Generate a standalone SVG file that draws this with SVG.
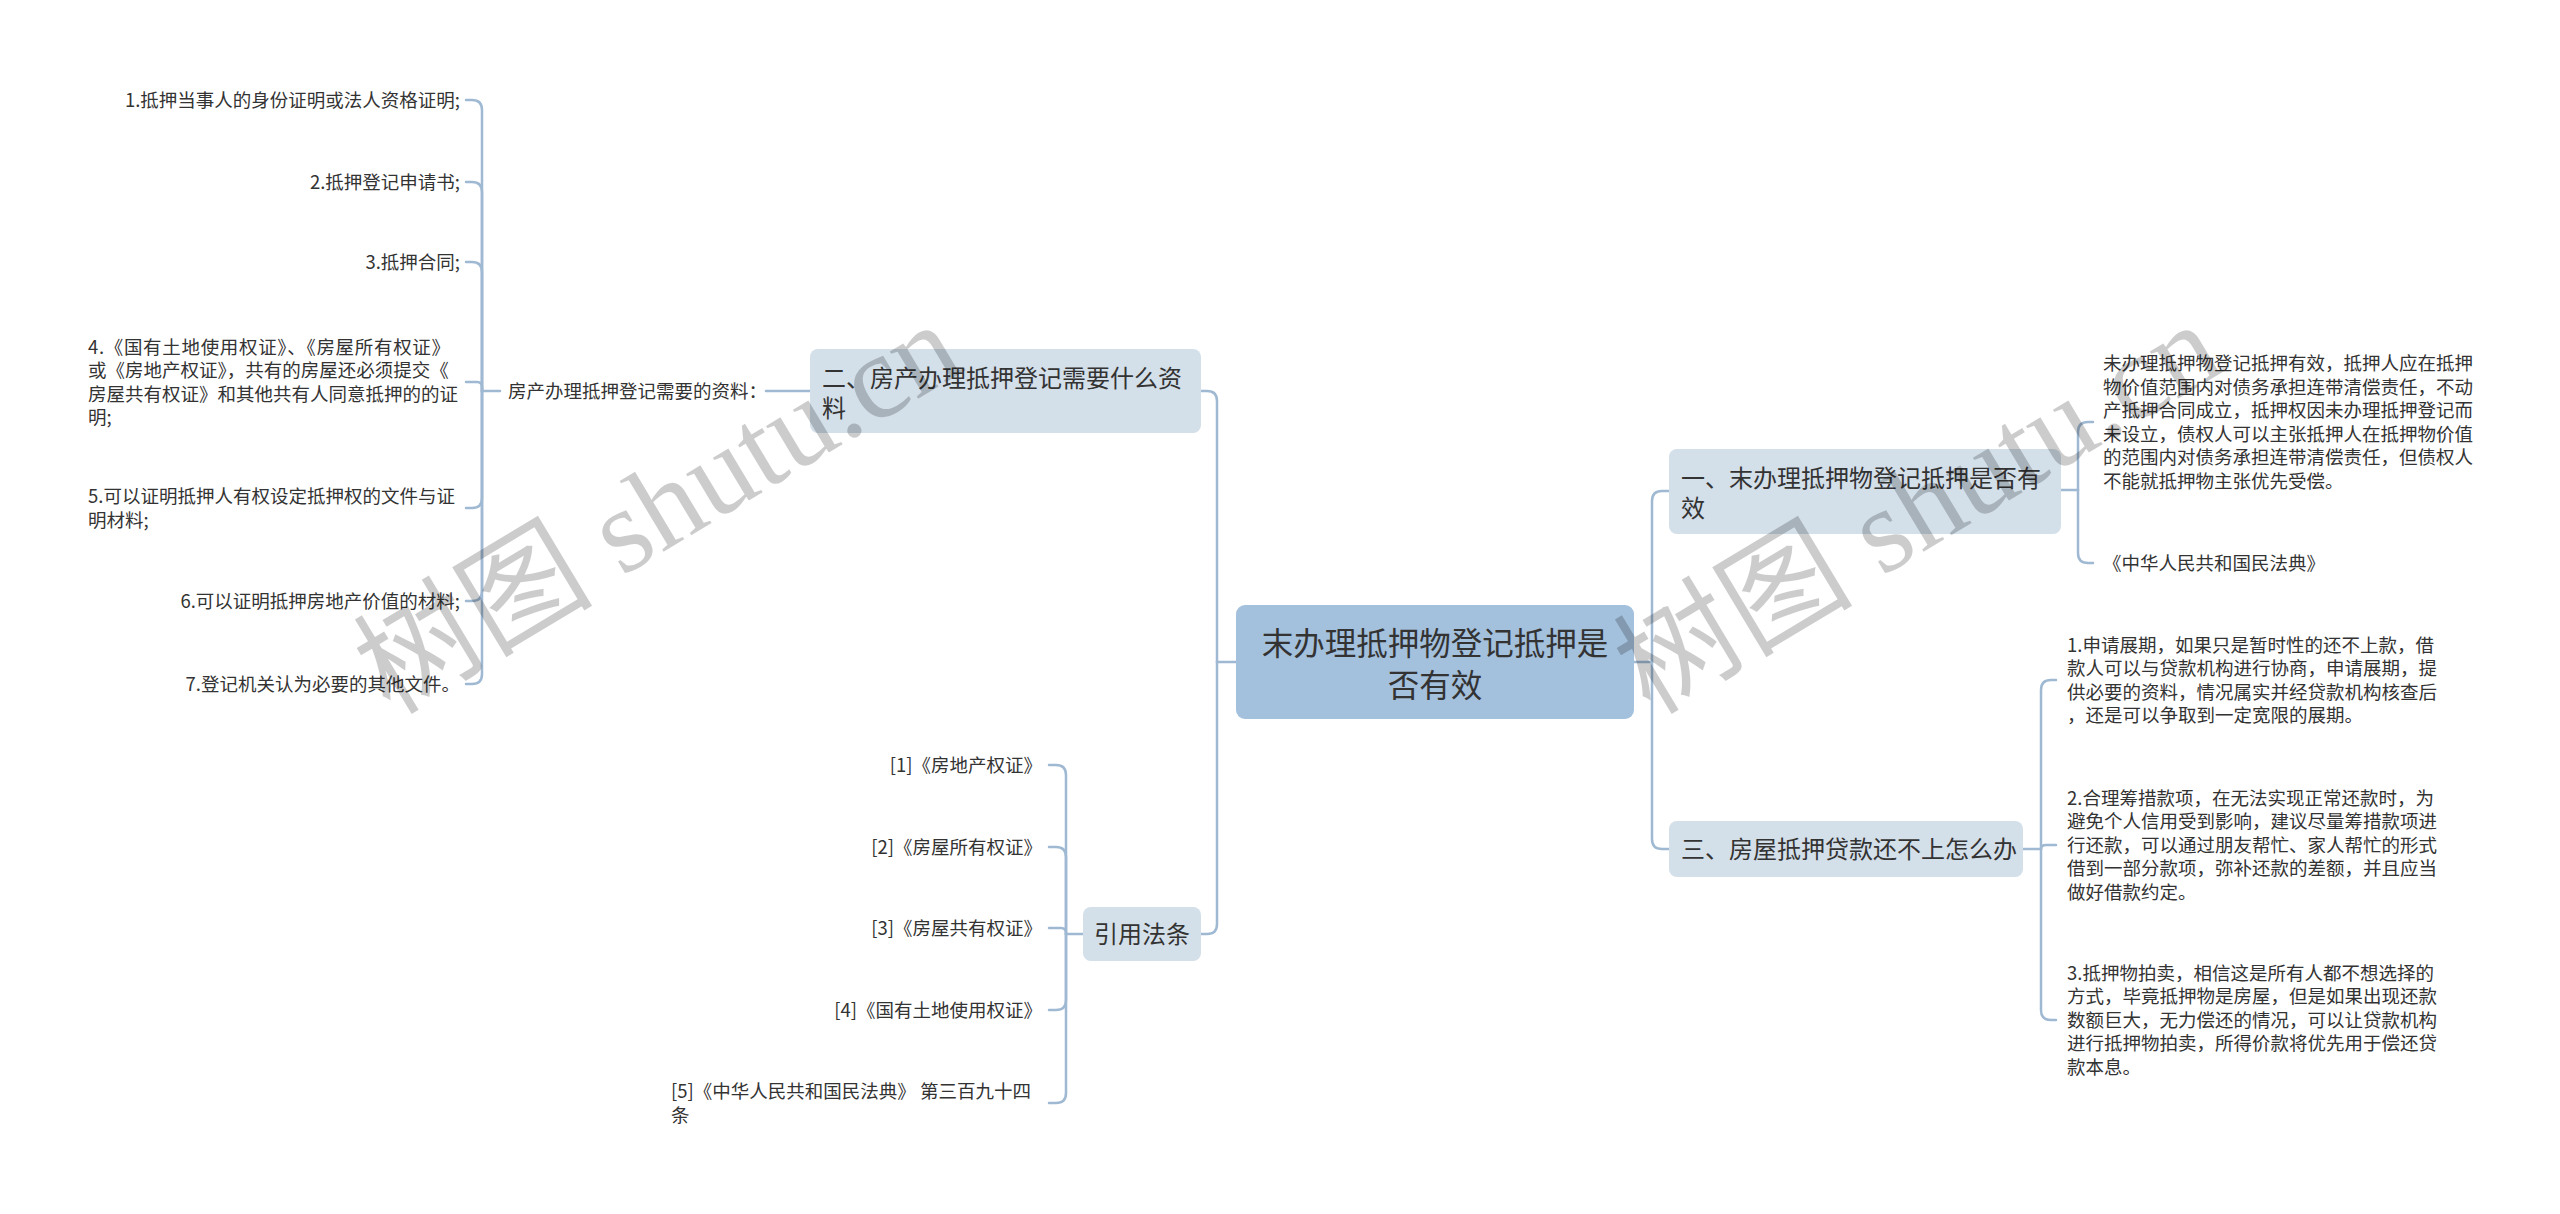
<svg xmlns="http://www.w3.org/2000/svg" width="2560" height="1214" viewBox="0 0 2560 1214">
<style>
.t{font-family:"Noto Sans CJK SC","Liberation Sans",sans-serif;fill:#333333}
.leaf{font-size:18.5px}
.br{font-size:24px}
.rt{font-size:31.5px}
.c{fill:none;stroke:#9fb9d3;stroke-width:2.5;stroke-linecap:round}
.bx{fill:#d3dfe9}
.rb{fill:#a3c0dc}
.wm{font-family:"Liberation Serif","Noto Sans CJK SC",serif;font-size:120px;fill:#000000;fill-opacity:0.2}
</style>
<rect width="2560" height="1214" fill="#ffffff"/>
<g id="connectors">
<path class="c" d="M466,100 H472 Q482,100 482,110 V391"/>
<path class="c" d="M466,182 H472 Q482,182 482,192 V391"/>
<path class="c" d="M466,262 H472 Q482,262 482,272 V391"/>
<path class="c" d="M466,382 H477 Q482,382 482,387 V391"/>
<path class="c" d="M466,508 H472 Q482,508 482,498 V391"/>
<path class="c" d="M466,601 H472 Q482,601 482,591 V391"/>
<path class="c" d="M466,684 H472 Q482,684 482,674 V391"/>
<path class="c" d="M482,391 H500"/>
<path class="c" d="M766,391 H810"/>
<path class="c" d="M1201,391 H1207 Q1217,391 1217,401 V662"/>
<path class="c" d="M1201,934 H1207 Q1217,934 1217,924 V662"/>
<path class="c" d="M1217,662 H1236"/>
<path class="c" d="M1634,662 H1652"/>
<path class="c" d="M1669,491 H1662 Q1652,491 1652,501 V662"/>
<path class="c" d="M1669,849 H1662 Q1652,849 1652,839 V662"/>
<path class="c" d="M2060,490 H2078"/>
<path class="c" d="M2093,422 H2088 Q2078,422 2078,432 V490"/>
<path class="c" d="M2093,563 H2088 Q2078,563 2078,553 V490"/>
<path class="c" d="M2023,849 H2041"/>
<path class="c" d="M2056,680 H2051 Q2041,680 2041,690 V849"/>
<path class="c" d="M2056,845 H2046 Q2041,845 2041,849"/>
<path class="c" d="M2056,1020 H2051 Q2041,1020 2041,1010 V849"/>
<path class="c" d="M1083,934 H1066"/>
<path class="c" d="M1049,765 H1056 Q1066,765 1066,775 V934"/>
<path class="c" d="M1049,847 H1056 Q1066,847 1066,857 V934"/>
<path class="c" d="M1049,928 H1061 Q1066,928 1066,933 V934"/>
<path class="c" d="M1049,1010 H1056 Q1066,1010 1066,1000 V934"/>
<path class="c" d="M1049,1103 H1056 Q1066,1103 1066,1093 V934"/>
</g>
<g id="root">
<rect class="rb" x="1236" y="605" width="398" height="114" rx="9"/>
<text class="t rt" x="1435" y="655" text-anchor="middle">末办理抵押物登记抵押是</text>
<text class="t rt" x="1435" y="697" text-anchor="middle">否有效</text>
</g>
<g id="node-er">
<rect class="bx" x="810" y="349" width="391" height="84" rx="8"/>
<text class="t br" x="822" y="387">二、房产办理抵押登记需要什么资</text>
<text class="t br" x="822" y="417">料</text>
</g>
<g id="node-yi">
<rect class="bx" x="1669" y="449" width="392" height="85" rx="8"/>
<text class="t br" x="1681" y="487">一、末办理抵押物登记抵押是否有</text>
<text class="t br" x="1681" y="517">效</text>
</g>
<g id="node-san">
<rect class="bx" x="1669" y="821" width="354" height="56" rx="8"/>
<text class="t br" x="1681" y="858">三、房屋抵押贷款还不上怎么办</text>
</g>
<g id="node-yinyong">
<rect class="bx" x="1083" y="907" width="118" height="54" rx="8"/>
<text class="t br" x="1142" y="943" text-anchor="middle">引用法条</text>
</g>
<g id="leaf-ziliao">
<text class="t leaf" x="508" y="398">房产办理抵押登记需要的资料：</text>
</g>
<g id="leaf-1"><text class="t leaf" x="460" y="107" text-anchor="end">1.抵押当事人的身份证明或法人资格证明;</text></g>
<g id="leaf-2"><text class="t leaf" x="460" y="189" text-anchor="end">2.抵押登记申请书;</text></g>
<g id="leaf-3"><text class="t leaf" x="460" y="269" text-anchor="end">3.抵押合同;</text></g>
<g id="leaf-4">
<text class="t leaf" x="88" y="354" textLength="362" lengthAdjust="spacing">4.《国有土地使用权证》、《房屋所有权证》</text>
<text class="t leaf" x="88" y="377">或《房地产权证》，共有的房屋还必须提交《</text>
<text class="t leaf" x="88" y="401">房屋共有权证》和其他共有人同意抵押的的证</text>
<text class="t leaf" x="88" y="424">明;</text>
</g>
<g id="leaf-5">
<text class="t leaf" x="88" y="503">5.可以证明抵押人有权设定抵押权的文件与证</text>
<text class="t leaf" x="88" y="527">明材料;</text>
</g>
<g id="leaf-6"><text class="t leaf" x="460" y="608" text-anchor="end">6.可以证明抵押房地产价值的材料;</text></g>
<g id="leaf-7"><text class="t leaf" x="460" y="691" text-anchor="end">7.登记机关认为必要的其他文件。</text></g>
<g id="leaf-yi-1">
<text class="t leaf" x="2103" y="370">未办理抵押物登记抵押有效，抵押人应在抵押</text>
<text class="t leaf" x="2103" y="394">物价值范围内对债务承担连带清偿责任，不动</text>
<text class="t leaf" x="2103" y="417">产抵押合同成立，抵押权因未办理抵押登记而</text>
<text class="t leaf" x="2103" y="441">未设立，债权人可以主张抵押人在抵押物价值</text>
<text class="t leaf" x="2103" y="464">的范围内对债务承担连带清偿责任，但债权人</text>
<text class="t leaf" x="2103" y="488">不能就抵押物主张优先受偿。</text>
</g>
<g id="leaf-yi-2"><text class="t leaf" x="2103" y="570">《中华人民共和国民法典》</text></g>
<g id="leaf-san-1">
<text class="t leaf" x="2067" y="652">1.申请展期，如果只是暂时性的还不上款，借</text>
<text class="t leaf" x="2067" y="675">款人可以与贷款机构进行协商，申请展期，提</text>
<text class="t leaf" x="2067" y="699">供必要的资料，情况属实并经贷款机构核查后</text>
<text class="t leaf" x="2067" y="722">，还是可以争取到一定宽限的展期。</text>
</g>
<g id="leaf-san-2">
<text class="t leaf" x="2067" y="805">2.合理筹措款项，在无法实现正常还款时，为</text>
<text class="t leaf" x="2067" y="828">避免个人信用受到影响，建议尽量筹措款项进</text>
<text class="t leaf" x="2067" y="852">行还款，可以通过朋友帮忙、家人帮忙的形式</text>
<text class="t leaf" x="2067" y="875">借到一部分款项，弥补还款的差额，并且应当</text>
<text class="t leaf" x="2067" y="899">做好借款约定。</text>
</g>
<g id="leaf-san-3">
<text class="t leaf" x="2067" y="980">3.抵押物拍卖，相信这是所有人都不想选择的</text>
<text class="t leaf" x="2067" y="1003">方式，毕竟抵押物是房屋，但是如果出现还款</text>
<text class="t leaf" x="2067" y="1027">数额巨大，无力偿还的情况，可以让贷款机构</text>
<text class="t leaf" x="2067" y="1050">进行抵押物拍卖，所得价款将优先用于偿还贷</text>
<text class="t leaf" x="2067" y="1074">款本息。</text>
</g>
<g id="ref-1"><text class="t leaf" x="1042" y="772" text-anchor="end">[1]《房地产权证》</text></g>
<g id="ref-2"><text class="t leaf" x="1042" y="854" text-anchor="end">[2]《房屋所有权证》</text></g>
<g id="ref-3"><text class="t leaf" x="1042" y="935" text-anchor="end">[3]《房屋共有权证》</text></g>
<g id="ref-4"><text class="t leaf" x="1042" y="1017" text-anchor="end">[4]《国有土地使用权证》</text></g>
<g id="ref-5">
<text class="t leaf" x="671" y="1098">[5]《中华人民共和国民法典》 第三百九十四</text>
<text class="t leaf" x="671" y="1122">条</text>
</g>
<g id="watermarks">
<text class="wm" transform="translate(390,716) rotate(-31)">树图 shutu.cn</text>
<text class="wm" transform="translate(1650,716) rotate(-31)">树图 shutu.cn</text>
</g>
</svg>
